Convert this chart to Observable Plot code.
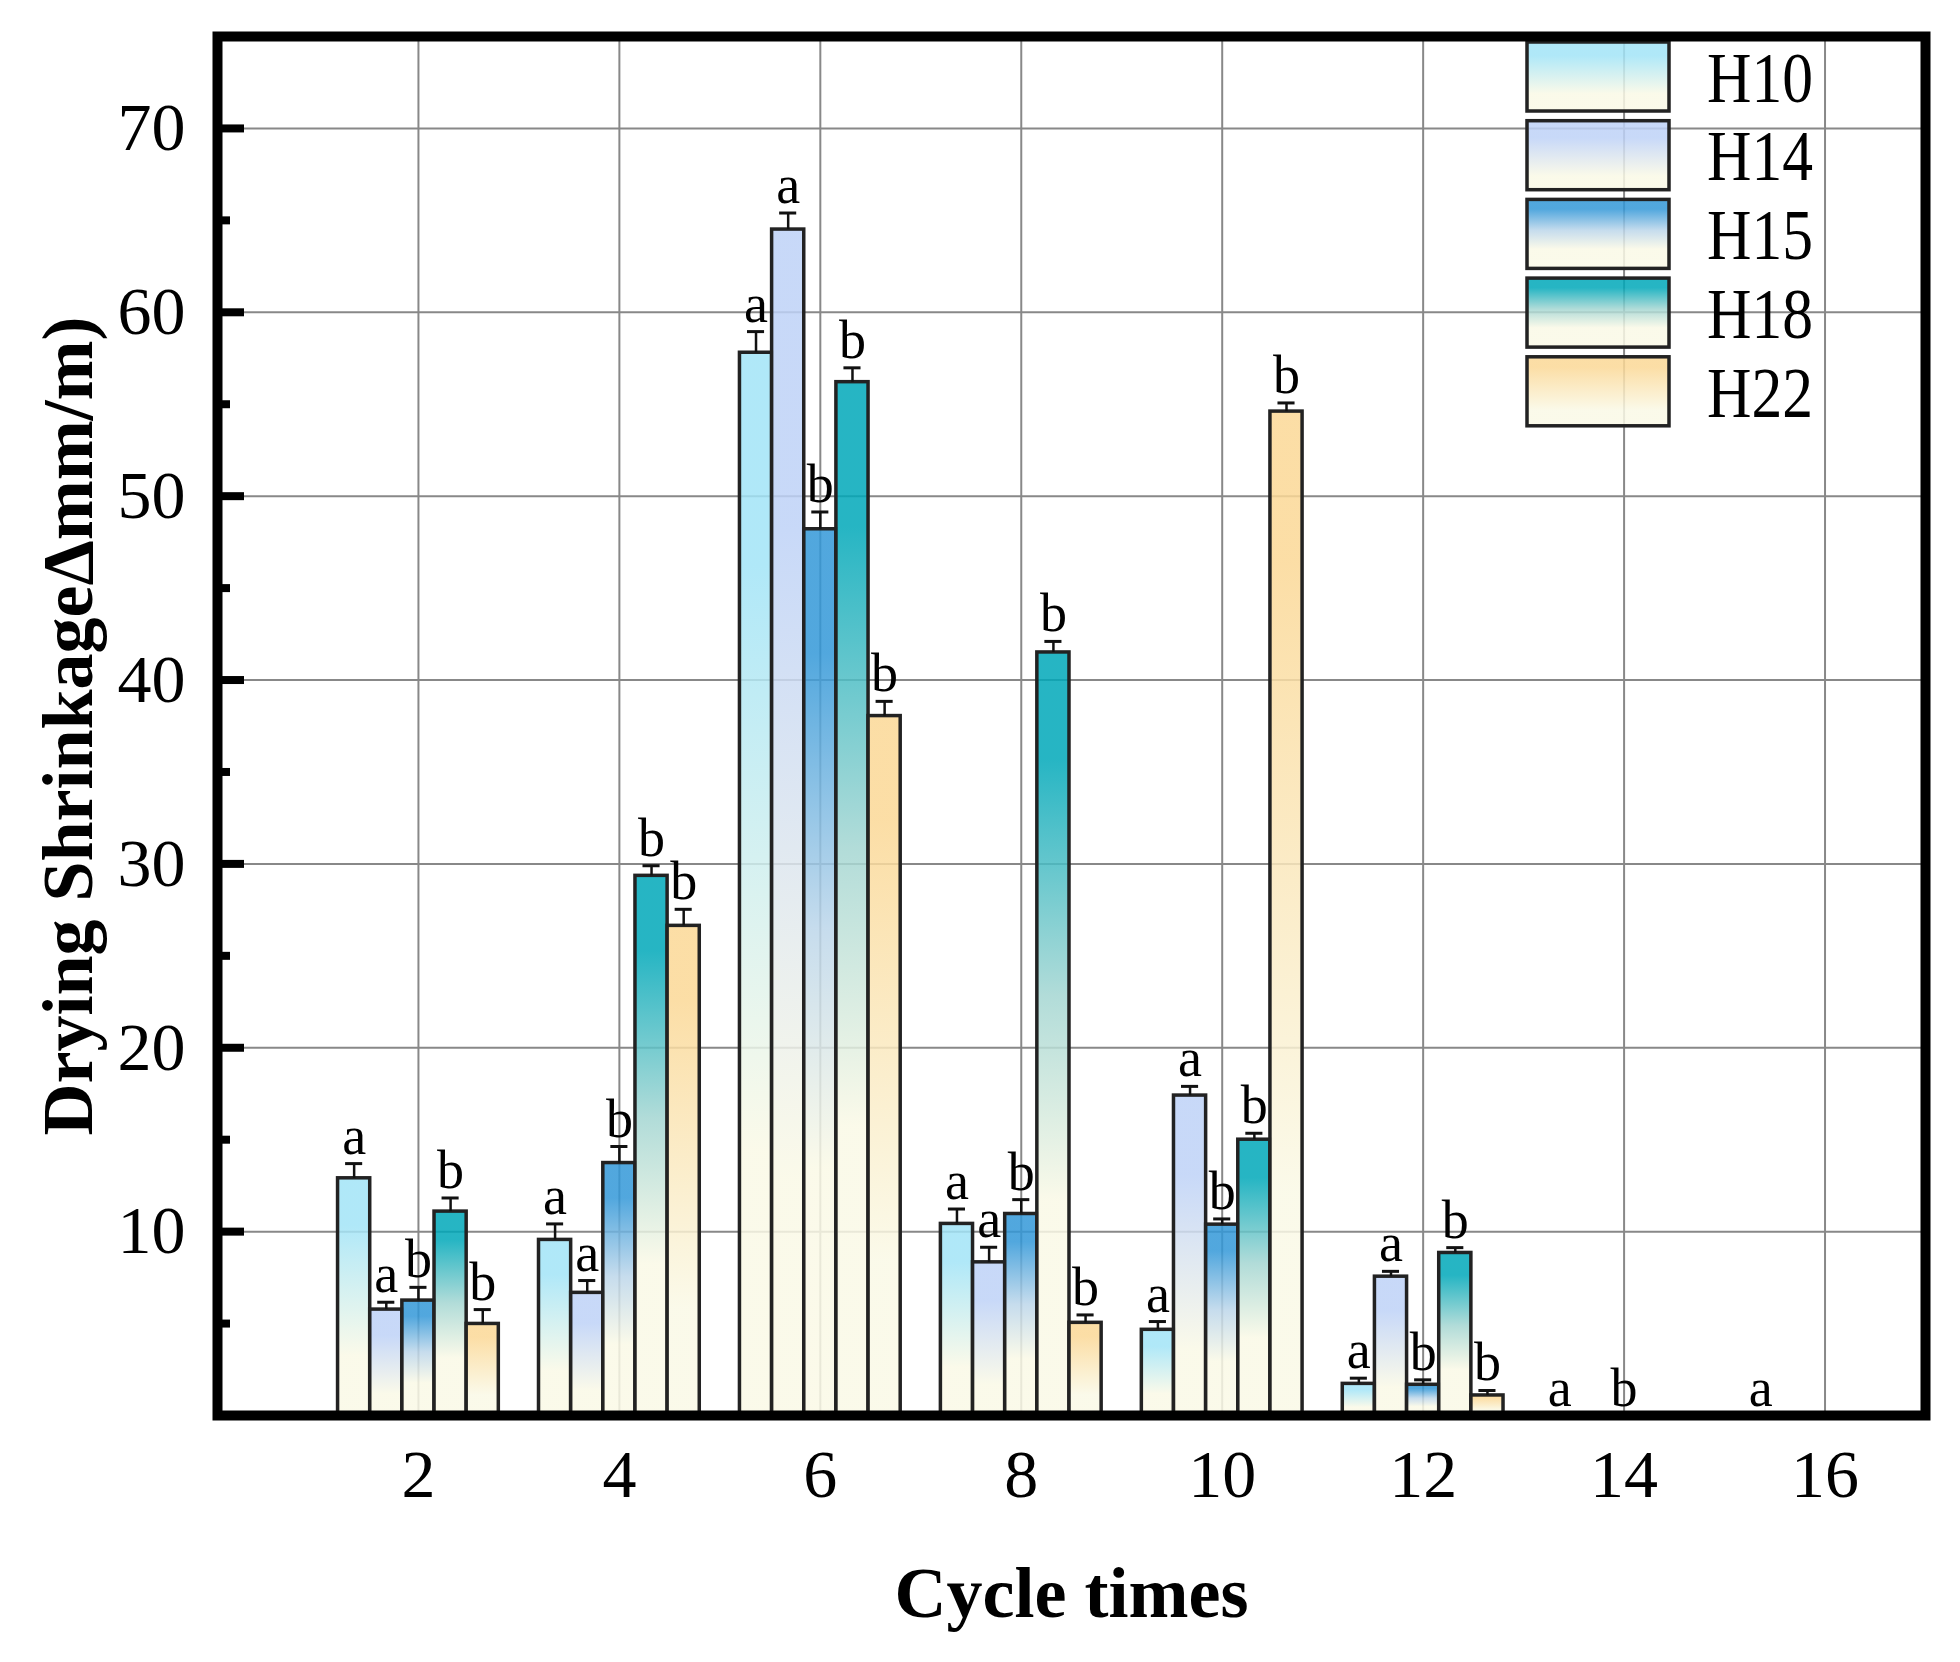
<!DOCTYPE html>
<html>
<head>
<meta charset="utf-8">
<script src="https://cdn.jsdelivr.net/npm/d3@7"></script>
<script src="https://cdn.jsdelivr.net/npm/@observablehq/plot@0.6"></script>
<style>
  html, body { margin: 0; padding: 0; background: #fff; }
  svg { display: block; }
</style>
</head>
<body>
<div id="chart"></div>
<script>
// Wet–dry cycle counts on the x axis
const cycles = [2, 4, 6, 8, 10, 12, 14, 16];
const series = ["H10", "H14", "H15", "H18", "H22"];

// Mean drying shrinkage (mm/m) per mix, one entry per cycle (null = not reported)
const H10 = [12.9, 9.55, 57.8, 10.42, 4.66, 1.72, 0, 0];
const H14 = [5.76, 6.67, 64.5, 8.33, 17.4, 7.55, null, null];
const H15 = [6.25, 13.73, 48.2, 10.96, 10.38, 1.67, 0, null];
const H18 = [11.09, 29.35, 56.2, 41.5, 15.0, 8.84, null, null];
const H22 = [4.98, 26.63, 38.04, 5.04, 54.6, 1.09, null, null];

// Standard deviations (drawn as upper error bars)
const H10err = [0.8, 0.87, 1.15, 0.81, 0.45, 0.31, 0, 0];
const H14err = [0.4, 0.67, 0.9, 0.82, 0.5, 0.29, null, null];
const H15err = [0.72, 0.9, 0.94, 0.78, 0.31, 0.27, 0, null];
const H18err = [0.74, 0.55, 0.78, 0.6, 0.35, 0.29, null, null];
const H22err = [0.78, 0.9, 0.8, 0.43, 0.47, 0.27, null, null];

// Significance letters above each bar
const H10sig = ["a", "a", "a", "a", "a", "a", "a", "a"];
const H14sig = ["a", "a", "a", "a", "a", "a", "", ""];
const H15sig = ["b", "b", "b", "b", "b", "b", "b", ""];
const H18sig = ["b", "b", "b", "b", "b", "b", "", ""];
const H22sig = ["b", "b", "b", "b", "b", "b", "", ""];

// Top colour of each bar gradient; all fade down to the same ivory
const topColors = ["#a2e4f7", "#bed2f7", "#3398d8", "#00a8b9", "#fbd896"];
const ivory = "#faf9e6";
const yTicks = [10, 20, 30, 40, 50, 60, 70];
const yMinor = [5, 15, 25, 35, 45, 55, 65];

const values = [H10, H14, H15, H18, H22];
const errors = [H10err, H14err, H15err, H18err, H22err];
const letters = [H10sig, H14sig, H15sig, H18sig, H22sig];

// gradient stops per series: [offset, colour]
const gradientStops = [
  [[0, topColors[0]], [0.2, topColors[0]], [0.75, ivory], [1, ivory]],
  [[0, topColors[1]], [0.25, topColors[1]], [0.8, ivory], [1, ivory]],
  [[0, topColors[2]], [0.14, topColors[2]], [0.45, "#bcd6ea"], [0.72, ivory], [1, ivory]],
  [[0, topColors[3]], [0.14, topColors[3]], [0.45, "#a4d6d2"], [0.72, ivory], [1, ivory]],
  [[0, topColors[4]], [0.15, topColors[4]], [0.78, ivory], [1, ivory]]
];

const barW = 0.32; // bar width in cycle units
const rows = [];
series.forEach((s, i) => {
  cycles.forEach((c, j) => {
    const v = values[i][j];
    if (v == null) return;
    rows.push({
      series: s, i, cycle: c, value: v, err: errors[i][j] ?? 0, sig: letters[i][j],
      xc: c + (i - 2) * barW,
      x1: c + (i - 2.5) * barW,
      x2: c + (i - 1.5) * barW
    });
  });
});
const bars = rows.filter(d => d.value > 0);

const W = 1960, H = 1662;
const margin = {left: 217, right: 35, top: 36, bottom: 247};
const serif = "'Liberation Serif', 'Times New Roman', serif";

const marks = [
  Plot.gridY({ticks: yTicks, stroke: "#888", strokeOpacity: 1, strokeWidth: 2}),
  Plot.gridX({ticks: cycles, stroke: "#888", strokeOpacity: 1, strokeWidth: 2})
];
series.forEach((s, i) => {
  marks.push(Plot.rectY(bars.filter(d => d.i === i), {
    x1: "x1", x2: "x2", y1: 0, y2: "value",
    fill: `url(#grad-${s})`, fillOpacity: 0.85,
    stroke: "#222", strokeWidth: 3.5
  }));
});
marks.push(
  Plot.ruleX(bars, {x: "xc", y1: "value", y2: d => d.value + d.err, stroke: "#111", strokeWidth: 2.5}),
  Plot.ruleY(bars, {y: d => d.value + d.err, x1: d => d.xc - 0.085, x2: d => d.xc + 0.085, stroke: "#111", strokeWidth: 3}),
  Plot.text(rows.filter(d => d.sig), {
    x: "xc", y: d => d.value + d.err, text: "sig",
    lineAnchor: "bottom", dy: -10, fontSize: 54, fontFamily: serif, fill: "#000"
  }),
  // y axis: inward major and minor ticks, labels outside
  Plot.axisY({ticks: yTicks, tickSize: -27, fill: "none", stroke: "#000", strokeWidth: 8, label: null}),
  Plot.axisY({ticks: yMinor, tickSize: -13, fill: "none", stroke: "#000", strokeWidth: 8, label: null}),
  Plot.axisY({ticks: yTicks, tickSize: 0, tickPadding: 32, fontSize: 68, fontFamily: serif, fill: "#000", label: null}),
  Plot.axisX({ticks: cycles, tickSize: 0, tickPadding: 33, fontSize: 68, fontFamily: serif, fill: "#000", label: null}),
  Plot.text(["Drying Shrinkage\u0394mm/m)"], {
    text: d => d, frameAnchor: "left", rotate: -90, dx: -126, lineAnchor: "bottom", textAnchor: "middle",
    fontSize: 72, fontWeight: "bold", fontFamily: serif, fill: "#000"
  }),
  Plot.text(["Cycle times"], {
    text: d => d, frameAnchor: "bottom", dy: 201, lineAnchor: "bottom", textAnchor: "middle",
    fontSize: 72, fontWeight: "bold", fontFamily: serif, fill: "#000"
  }),
  Plot.frame({stroke: "#000", strokeWidth: 10})
);

const chart = Plot.plot({
  width: W, height: H,
  marginLeft: margin.left, marginRight: margin.right,
  marginTop: margin.top, marginBottom: margin.bottom,
  x: {type: "linear", domain: [0, 17]},
  y: {domain: [0, 75]},
  style: {fontFamily: serif, background: "#fff", overflow: "visible"},
  marks
});

// vertical gradients referenced by the bar fills
const svg = d3.select(chart);
const defs = svg.insert("defs", ":first-child");
series.forEach((s, i) => {
  const g = defs.append("linearGradient")
    .attr("id", `grad-${s}`)
    .attr("x1", 0).attr("y1", 0).attr("x2", 0).attr("y2", 1);
  gradientStops[i].forEach(([o, c]) => g.append("stop").attr("offset", o).attr("stop-color", c));
});

// legend in the upper-right corner of the frame
const frameRight = W - margin.right;
const legend = svg.insert("g", "[aria-label=frame]").attr("class", "legend");
const swW = 142, swH = 69, step = 78.7;
series.forEach((s, i) => {
  const y0 = margin.top + 6 + i * step;
  legend.append("rect")
    .attr("x", frameRight - 398).attr("y", y0)
    .attr("width", swW).attr("height", swH)
    .attr("fill", `url(#grad-${s})`).attr("fill-opacity", 0.85)
    .attr("stroke", "#222").attr("stroke-width", 3.5);
  legend.append("text")
    .attr("x", frameRight - 218).attr("y", y0 + swH / 2)
    .attr("dy", "0.35em")
    .attr("text-anchor", "start")
    .attr("font-size", 72).attr("font-family", serif).attr("fill", "#000")
    .attr("textLength", 106).attr("lengthAdjust", "spacingAndGlyphs")
    .text(s);
});

document.getElementById("chart").appendChild(chart);
</script>
</body>
</html>
